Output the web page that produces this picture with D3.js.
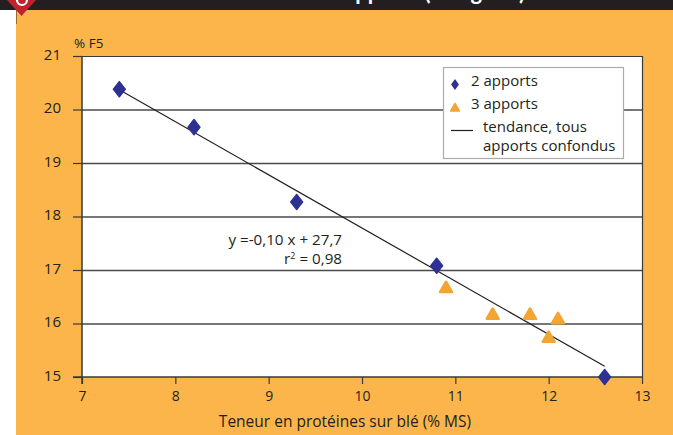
<!DOCTYPE html>
<html>
<head>
<meta charset="utf-8">
<script src="https://cdn.jsdelivr.net/npm/d3@7"></script>
<style>
  html, body { margin: 0; padding: 0; background: #ffffff; }
  svg { display: block; font-family: "Open Sans", Lato, sans-serif; }
</style>
</head>
<body>
<svg id="chart" width="673" height="435"></svg>
<script>
// ---- data ----
const apports2X = [7.4, 8.2, 9.3, 10.8, 12.6];
const apports2Y = [20.38, 19.67, 18.27, 17.08, 15.0];
const apports3X = [10.9, 11.4, 11.8, 12.1, 12.0];
const apports3Y = [16.67, 16.17, 16.17, 16.09, 15.74];
const trendX = [7.4, 12.6];
const trendY = [20.37, 15.2];
const xTicks = [7, 8, 9, 10, 11, 12, 13];
const yTicks = [15, 16, 17, 18, 19, 20, 21];
const legendLabels = ["2 apports", "3 apports", "tendance, tous", "apports confondus"];
const equationLines = ["y =-0,10 x + 27,7", "0,98"];
const yUnit = "% F5";
const xTitle = "Teneur en protéines sur blé (% MS)";
const titleText = "Teneur en F5 selon le nombre d'apports (Isengrain)";

const svg = d3.select("#chart");
const W = 673, H = 435;
const orange = "#fbb54b";
const navy = "#2e3192";
const tri = "#f4a531";
const ink = "#231f20";

// background panels
svg.append("rect").attr("x", 0).attr("y", 0).attr("width", W).attr("height", 10).attr("fill", ink);
// title (its upper part lies above the page, only descenders show)
svg.append("text").attr("x", 525).attr("y", 0).attr("text-anchor", "end")
  .attr("fill", "#ffffff").attr("font-weight", "bold").attr("font-size", 22)
  .attr("font-family", "Lato, sans-serif").text(titleText);
svg.append("rect").attr("x", 16).attr("y", 10).attr("width", W - 16).attr("height", H - 10).attr("fill", orange);
svg.append("rect").attr("x", 0).attr("y", 10).attr("width", 16).attr("height", H - 10).attr("fill", "#fff");
svg.append("line").attr("x1", 16.5).attr("x2", 16.5).attr("y1", 10).attr("y2", 24).attr("stroke", "#9a6a2a").attr("stroke-width", 1);
// red badge
svg.append("path").attr("d", "M7,0 L36,0 L21.5,16 Z").attr("fill", "#be2430");
svg.append("circle").attr("cx", 22).attr("cy", 0).attr("r", 5).attr("fill", "none").attr("stroke", "#fff").attr("stroke-width", 2.2);

// scales
const x = d3.scaleLinear().domain([7, 13]).range([82, 642]);
const y = d3.scaleLinear().domain([15, 21]).range([377, 56]);

// plot area
svg.append("rect").attr("x", x(7)).attr("y", y(21)).attr("width", x(13) - x(7)).attr("height", y(15) - y(21))
  .attr("fill", "#ffffff");

// gridlines
svg.append("g").selectAll("line").data(yTicks.filter(d => d > 15 && d < 21)).join("line")
  .attr("x1", x(7)).attr("x2", x(13)).attr("y1", d => y(d) + 0.5).attr("y2", d => y(d) + 0.5)
  .attr("stroke", "#4a4a4a").attr("stroke-width", 1.3);

// frame top/right
svg.append("path")
  .attr("d", `M${x(7)},${y(21) + 0.5} H${x(13) + 0.5} V${y(15)}`)
  .attr("fill", "none").attr("stroke", "#3a3a3a").attr("stroke-width", 1.2);

// y axis
const yAxis = d3.axisLeft(y).tickValues(yTicks).tickSize(9).tickPadding(12).tickFormat(d3.format("d"));
const gy = svg.append("g").attr("transform", `translate(${x(7)},0)`).call(yAxis);
gy.select(".domain").attr("d", `M0,${y(21)} V${y(15) + 7}`).attr("stroke", "#3a3a3a").attr("stroke-width", 1.5);
gy.selectAll(".tick line").attr("stroke", "#3a3a3a").attr("stroke-width", 1.2);
gy.selectAll(".tick text").attr("font-size", 15).attr("fill", ink).attr("dy", "0.22em")
  .attr("font-family", "'Open Sans', sans-serif");

// x axis
const xAxis = d3.axisBottom(x).tickValues(xTicks).tickSize(7).tickPadding(7).tickFormat(d3.format("d"));
const gx = svg.append("g").attr("transform", `translate(0,${y(15)})`).call(xAxis);
gx.select(".domain").attr("d", `M${x(7) - 9},0 H${x(13)}`).attr("stroke", "#3a3a3a").attr("stroke-width", 1.5);
gx.selectAll(".tick line").attr("stroke", "#3a3a3a").attr("stroke-width", 1.2);
gx.selectAll(".tick text").attr("font-size", 14).attr("fill", ink).attr("font-family", "'Open Sans', sans-serif");

// axis titles
svg.append("text").attr("x", 74).attr("y", 48).attr("font-size", 13.5).attr("fill", ink).text(yUnit);
svg.append("text").attr("x", 345).attr("y", 427).attr("text-anchor", "middle").attr("font-size", 15.5).attr("fill", ink).text(xTitle);

// trend line
svg.append("path")
  .datum(d3.zip(trendX, trendY))
  .attr("d", d3.line().x(d => x(d[0])).y(d => y(d[1])))
  .attr("fill", "none").attr("stroke", ink).attr("stroke-width", 1.2);

// markers
const diamond = d3.symbol().type(d3.symbolDiamond).size(70);
const triangle = d3.symbol().type(d3.symbolTriangle).size(62);

svg.append("g").selectAll("path").data(d3.zip(apports2X, apports2Y)).join("path")
  .attr("d", diamond)
  .attr("transform", d => `translate(${x(d[0])},${y(d[1])}) scale(1.35,1)`)
  .attr("fill", navy).attr("stroke", navy).attr("stroke-width", 1).attr("stroke-linejoin", "round");

svg.append("g").selectAll("path").data(d3.zip(apports3X, apports3Y)).join("path")
  .attr("d", triangle)
  .attr("transform", d => `translate(${x(d[0])},${y(d[1]) + 1})`)
  .attr("fill", tri).attr("stroke", tri).attr("stroke-width", 2.5).attr("stroke-linejoin", "round");

// equation
const eq = svg.append("g").attr("font-size", 15.2).attr("fill", ink);
eq.append("text").attr("x", 342).attr("y", 245).attr("text-anchor", "end").text(equationLines[0]);
const r2 = eq.append("text").attr("x", 342).attr("y", 264).attr("text-anchor", "end");
r2.append("tspan").text("r");
r2.append("tspan").attr("dy", -5).attr("font-size", 9).text("2");
r2.append("tspan").attr("dy", 5).text(" = " + equationLines[1]);

// legend
const lg = svg.append("g");
lg.append("rect").attr("x", 443.5).attr("y", 67.5).attr("width", 180).attr("height", 91)
  .attr("fill", "#fff").attr("stroke", "#a9abae").attr("stroke-width", 1.2);
lg.append("path").attr("d", d3.symbol().type(d3.symbolDiamond).size(34))
  .attr("transform", "translate(455,84.5) scale(1.25,1)").attr("fill", navy);
lg.append("path").attr("d", d3.symbol().type(d3.symbolTriangle).size(34))
  .attr("transform", "translate(455,108.5)").attr("fill", tri).attr("stroke", tri).attr("stroke-width", 1.5).attr("stroke-linejoin", "round");
lg.append("line").attr("x1", 451).attr("x2", 473).attr("y1", 130.5).attr("y2", 130.5).attr("stroke", ink).attr("stroke-width", 1.2);
const lgText = lg.append("g").attr("font-size", 15).attr("fill", ink);
lgText.append("text").attr("x", 471).attr("y", 86).text(legendLabels[0]);
lgText.append("text").attr("x", 471).attr("y", 109).text(legendLabels[1]);
lgText.append("text").attr("x", 483).attr("y", 132).text(legendLabels[2]);
lgText.append("text").attr("x", 483).attr("y", 151).text(legendLabels[3]);
</script>
</body>
</html>
